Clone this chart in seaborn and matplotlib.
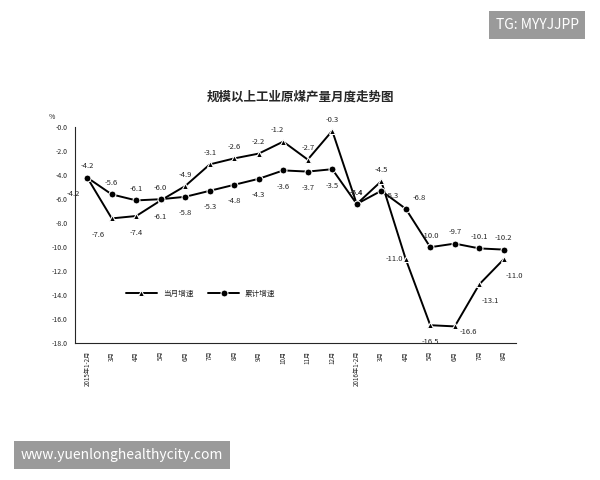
import matplotlib
matplotlib.use("Agg")
import matplotlib.pyplot as plt
import seaborn as sns
import pandas as pd

sns.set_style("white")
plt.rcParams['font.family'] = ['Noto Sans CJK SC', 'DejaVu Sans']

months = ["2015年1-2月","3月","4月","5月","6月","7月","8月","9月","10月","11月","12月",
          "2016年1-2月","3月","4月","5月","6月","7月","8月"]
monthly = [-4.2,-7.6,-7.4,-6.1,-4.9,-3.1,-2.6,-2.2,-1.2,-2.7,-0.3,-6.4,-4.5,-11.0,-16.5,-16.6,-13.1,-11.0]
cumulative = [-4.2,-5.6,-6.1,-6.0,-5.8,-5.3,-4.8,-4.3,-3.6,-3.7,-3.5,-6.4,-5.3,-6.8,-10.0,-9.7,-10.1,-10.2]

x = list(range(len(months)))
df = pd.DataFrame({"x": x, "当月增速": monthly, "累计增速": cumulative})

fig = plt.figure(figsize=(6, 4.8), dpi=100)
ax = fig.add_axes([0.125, 0.285, 0.735, 0.45])
sns.lineplot(data=df, x="x", y="当月增速", ax=ax, color="black", marker="^", markersize=5, lw=1.4, label="当月增速")
sns.lineplot(data=df, x="x", y="累计增速", ax=ax, color="black", marker="o", markersize=5, lw=1.4, label="累计增速")

m_off = [(0,8),(-10,-12),(0,-12),(0,-12),(0,8),(0,8),(0,8),(0,8),(-4,8),(0,8),(0,8),(0,8),(0,8),(-8,0),(0,-12),(10,-4),(8,-12),(8,-12)]
c_off = [(-10,-12),(0,8),(0,8),(0,8),(0,-12),(0,-12),(0,-12),(0,-12),(0,-12),(0,-12),(0,-12),(0,8),(8,-4),(10,8),(0,8),(0,8),(0,8),(0,8)]
for i in x:
    ax.annotate(f"{monthly[i]:.1f}", (i, monthly[i]), xytext=m_off[i], textcoords="offset points",
                ha="center", va="center", fontsize=5.5)
    ax.annotate(f"{cumulative[i]:.1f}", (i, cumulative[i]), xytext=c_off[i], textcoords="offset points",
                ha="center", va="center", fontsize=5.5)

ax.set_ylim(-18, 0)
ax.set_yticks([v * -2.0 for v in range(10)])
ax.set_yticklabels([f"{v*-2.0:.1f}" for v in range(10)], fontsize=5)
ax.set_xlim(-0.5, len(months) - 0.5)
ax.set_xticks(x)
ax.set_xticklabels(months, rotation=90, fontsize=4.5)
ax.set_xlabel("")
ax.set_ylabel("")
ax.tick_params(length=2)
sns.despine(ax=ax)
ax.text(-0.06, 1.04, "%", transform=ax.transAxes, fontsize=5)
ax.legend(loc="lower left", bbox_to_anchor=(0.1, 0.18), ncol=2, frameon=False, fontsize=5.5, handlelength=4)
fig.text(0.5, 0.79, "规模以上工业原煤产量月度走势图", ha="center", fontsize=9, fontweight="bold")

fig.text(0.895, 0.948, "TG: MYYJJPP", ha="center", va="center", fontsize=10, color="white",
         bbox=dict(facecolor="#9a9a9a", edgecolor="none", boxstyle="square,pad=0.5"))
fig.text(0.035, 0.053, "www.yuenlonghealthycity.com", ha="left", va="center", fontsize=10, color="white",
         bbox=dict(facecolor="#9a9a9a", edgecolor="none", boxstyle="square,pad=0.5"))
fig.savefig("out.png", dpi=100)
